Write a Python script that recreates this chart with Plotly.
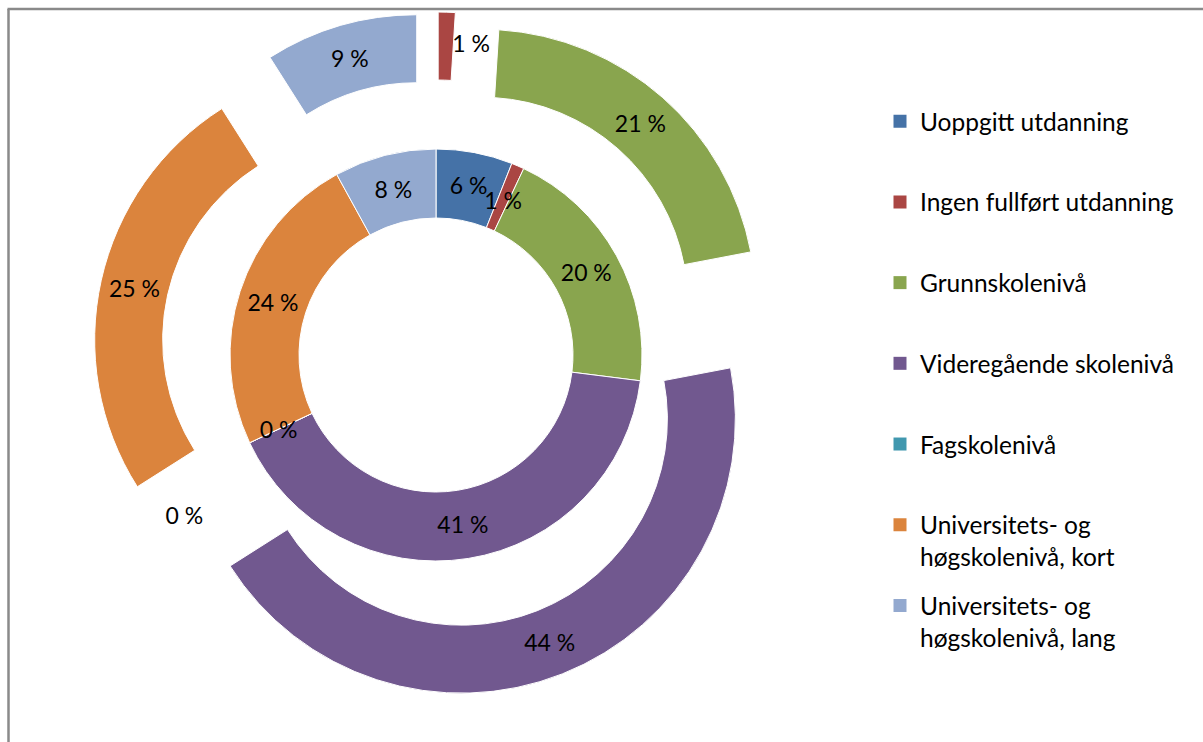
import textwrap
import plotly.graph_objects as go

# ---------------- data ----------------
categories = [
    "Uoppgitt utdanning",
    "Ingen fullført utdanning",
    "Grunnskolenivå",
    "Videregående skolenivå",
    "Fagskolenivå",
    "Universitets- og høgskolenivå, kort",
    "Universitets- og høgskolenivå, lang",
]
inner_pct = [6, 1, 20, 41, 0, 24, 8]          # inner ring
outer_pct = [None, 1, 21, 44, 0, 25, 9]       # outer (exploded) ring, first value not shown

# ---------------- style ----------------
COLORS = ["#4572A7", "#AA4643", "#89A54E", "#71588F", "#4198AF", "#DB843D", "#93A9CF"]
FONT = "Lato"
FS = 23          # data labels
FS_LEG = 24.5    # legend
W, H = 1203, 742
CX, CY = 436, 355            # ring centre (px)
R_IN_HOLE, R_IN = 137, 206   # inner ring radii
R_OUT = 274                  # outer ring outer radius (inner radius = R_IN)
PULL_PX = 69                 # explosion of the outer ring
R_LBL_IN = 174               # label radius for tiny inner slices
R_LBL_OUT = 298              # label radius for tiny outer slices
EPS = 1e-9                   # keeps zero slices at their angular position for labels


def dom(half):
    return dict(x=[(CX - half) / W, (CX + half) / W],
                y=[1 - (CY + half) / H, 1 - (CY - half) / H])


def fmt(v):
    return f"{v} %"


def is_small(v):
    return v is not None and v <= 1


inner_vals = inner_pct
outer_vals = [0 if v is None else v for v in outer_pct]

inner_text = [fmt(v) if not is_small(v) else "" for v in inner_pct]
inner_small = [fmt(v) if is_small(v) else "" for v in inner_pct]
outer_text = [fmt(v) if (v is not None and not is_small(v)) else "" for v in outer_pct]
outer_small = [fmt(v) if is_small(v) else "" for v in outer_pct]
outer_small_pos = ["outside" if (is_small(v) and v > 0) else "inside" for v in outer_pct]

common = dict(labels=categories, sort=False, direction="clockwise", rotation=0,
              textinfo="text", insidetextorientation="horizontal",
              showlegend=False)
txtfont = dict(family=FONT, size=FS, color="black")

fig = go.Figure()

pull = PULL_PX / R_OUT
fig.add_trace(go.Pie(values=outer_vals, text=outer_text, textposition="inside",
                     hole=R_IN / R_OUT, pull=[pull] * len(outer_vals),
                     marker=dict(colors=COLORS, line=dict(color="white", width=1)),
                     domain=dom(R_OUT * (1 + pull)), textfont=txtfont,
                     hoverinfo="label+text", **common))
fig.add_trace(go.Pie(values=inner_vals, text=inner_text, textposition="inside",
                     hole=R_IN_HOLE / R_IN,
                     marker=dict(colors=COLORS, line=dict(color="white", width=1)),
                     domain=dom(R_IN), textfont=txtfont,
                     hoverinfo="label+text", **common))
# label layers for the tiny slices (transparent)
transparent = ["rgba(0,0,0,0)"] * len(categories)
fig.add_trace(go.Pie(values=[v if v else EPS for v in inner_vals], text=inner_small,
                     textposition="inside",
                     marker=dict(colors=transparent, line=dict(width=0)),
                     domain=dom(R_LBL_IN), textfont=txtfont, hoverinfo="skip", **common))
fig.add_trace(go.Pie(values=[v if v else EPS for v in outer_vals], text=outer_small,
                     textposition=outer_small_pos,
                     marker=dict(colors=transparent, line=dict(width=0)),
                     domain=dom(R_LBL_OUT), textfont=txtfont, hoverinfo="skip", **common))


def legend_label(name):
    lines = textwrap.wrap(name, 24)
    while len(lines) < 2:
        lines.append("\u00a0")
    return "<br>".join(lines)


for cat, col in zip(categories, COLORS):
    fig.add_trace(go.Scatter(x=[None], y=[None], mode="markers", name=legend_label(cat),
                             legendgroup=cat, hoverinfo="skip",
                             marker=dict(symbol="square", size=13, color=col,
                                         line=dict(width=0))))

fig.update_layout(
    width=W, height=H,
    margin=dict(l=0, r=0, t=0, b=0),
    paper_bgcolor="white", plot_bgcolor="white",
    font=dict(family=FONT, size=FS, color="black"),
    uniformtext=dict(mode="show", minsize=FS),
    xaxis=dict(visible=False), yaxis=dict(visible=False),
    legend=dict(x=880 / W, xanchor="left", y=1 - 98.8 / H, yanchor="top",
                font=dict(family=FONT, size=FS_LEG, color="black"),
                tracegroupgap=14, valign="top", bgcolor="rgba(0,0,0,0)"),
    shapes=[
        dict(type="line", xref="paper", yref="paper", x0=8.5 / W, x1=8.5 / W,
             y0=-0.05, y1=1 - 9 / H, line=dict(color="#8a8a8a", width=2.5)),
        dict(type="line", xref="paper", yref="paper", x0=7.5 / W, x1=1.05,
             y0=1 - 9 / H, y1=1 - 9 / H, line=dict(color="#8a8a8a", width=2.5)),
    ],
)

fig.write_html("out.html", config={"displayModeBar": False},
               post_script="document.body.style.margin='0px';")
